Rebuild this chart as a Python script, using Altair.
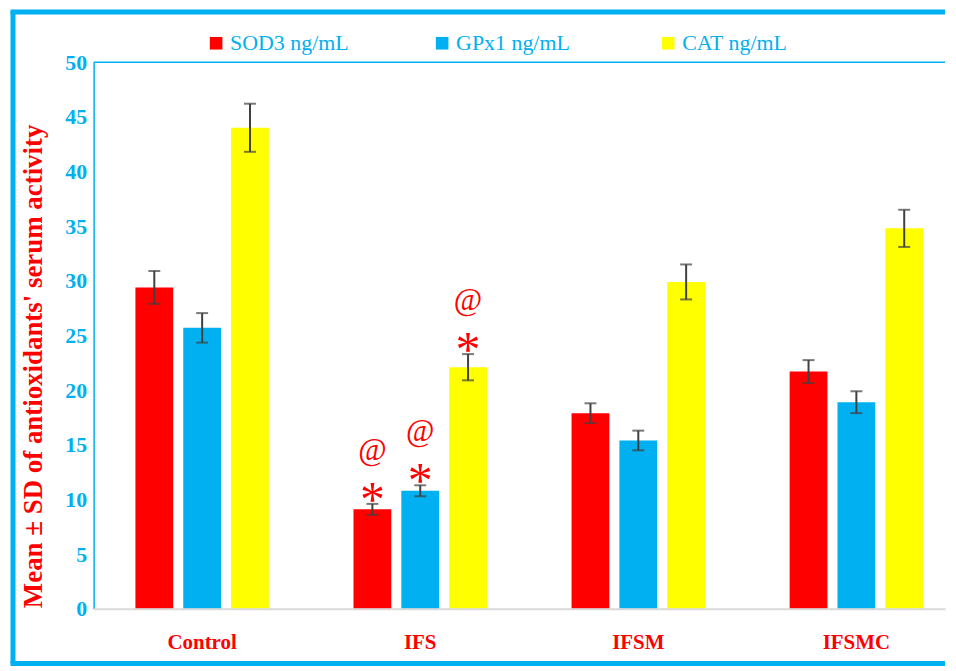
import altair as alt
import pandas as pd

groups = ["Control", "IFS", "IFSM", "IFSMC"]
series = ["SOD3 ng/mL", "GPx1 ng/mL", "CAT ng/mL"]
sod3 = [29.4, 9.1, 17.9, 21.7]
sod3_sd = [1.5, 0.5, 0.9, 1.05]
gpx1 = [25.7, 10.8, 15.4, 18.9]
gpx1_sd = [1.35, 0.5, 0.9, 1.0]
cat = [44.0, 22.1, 29.9, 34.8]
cat_sd = [2.2, 1.2, 1.6, 1.7]
# significance marks (IFS only)
star = ["", "*", "", ""]
at = ["", "@", "", ""]

rows = []
for s, vals, sds in [(series[0], sod3, sod3_sd), (series[1], gpx1, gpx1_sd), (series[2], cat, cat_sd)]:
    for i, g in enumerate(groups):
        rows.append({"group": g, "series": s, "value": vals[i], "sd": sds[i],
                     "lo": vals[i] - sds[i], "hi": vals[i] + sds[i],
                     "star": star[i], "at": at[i]})
df = pd.DataFrame(rows)

W, H = 855, 549
BLUE = "#00B0F0"
RED = "#FF0000"
FONT = "Liberation Serif"

xscale = alt.Scale(domain=groups, paddingInner=0.388, paddingOuter=0.146, align=0.656)
xoff = alt.Scale(domain=series, paddingInner=0.21, paddingOuter=0)
yscale = alt.Scale(domain=[0, 50])

X = alt.X("group:N", scale=xscale, sort=groups,
          axis=alt.Axis(title=None, labelAngle=0, labelColor=RED, labelFont=FONT,
                        labelFontSize=21, labelFontWeight="bold", labelPadding=23,
                        ticks=False, domainColor="#D9D9D9", domainWidth=2, zindex=1))
XO = alt.XOffset("series:N", scale=xoff, sort=series)

bars = alt.Chart(df).mark_bar().encode(
    x=X, xOffset=XO,
    y=alt.Y("value:Q", scale=yscale,
            axis=alt.Axis(title="Mean ± SD of antioxidants' serum activity",
                          values=list(range(0, 51, 5)), grid=False, ticks=False,
                          domain=True, domainColor=BLUE, domainWidth=1.5,
                          labelColor=BLUE, labelFont=FONT, labelFontSize=22,
                          labelFontWeight="bold", labelPadding=7,
                          titleColor=RED, titleFont=FONT, titleFontSize=27,
                          titleFontWeight="bold", titleX=-60, titleY=305,
                          titleAngle=270, titleAlign="center", titleBaseline="middle")),
    color=alt.Color("series:N", sort=series,
                    scale=alt.Scale(domain=series, range=[RED, BLUE, "#FFFF00"]),
                    legend=alt.Legend(title=None, orient="none", legendX=112, legendY=-30,
                                      direction="horizontal", columns=3, gridAlign="all",
                                      columnPadding=82, symbolType="square", symbolSize=160,
                                      symbolStrokeWidth=0, labelFont=FONT, labelFontSize=22,
                                      labelColor=BLUE, labelOffset=3, labelLimit=300)),
)

err = alt.Chart(df).mark_rule(color="#404040", strokeWidth=2).encode(
    x=X, xOffset=XO, y="lo:Q", y2="hi:Q")
cap_hi = alt.Chart(df).mark_tick(color="#404040", thickness=2, size=12).encode(
    x=X, xOffset=XO, y="hi:Q")
cap_lo = alt.Chart(df).mark_tick(color="#404040", thickness=2, size=12).encode(
    x=X, xOffset=XO, y="lo:Q")

stars = alt.Chart(df).mark_text(color=RED, font=FONT, fontSize=50, baseline="middle",
                                dy=-3).encode(
    x=X, xOffset=XO, y="hi:Q", text="star:N")
ats = alt.Chart(df).mark_text(color=RED, font=FONT, fontSize=31, baseline="middle",
                              dy=-53).encode(
    x=X, xOffset=XO, y="hi:Q", text="at:N")

dummy = alt.Data(values=[{"a": 1}])
top_line = alt.Chart(dummy).mark_rule(color=BLUE, strokeWidth=1.5).encode(
    x=alt.value(0), x2=alt.value(W), y=alt.value(0))
frame_left = alt.Chart(dummy).mark_rule(color=BLUE, strokeWidth=5).encode(
    x=alt.value(-81), y=alt.value(-50.5), y2=alt.value(H + 55))
frame_top = alt.Chart(dummy).mark_rule(color=BLUE, strokeWidth=5).encode(
    x=alt.value(-83.5), x2=alt.value(W), y=alt.value(-50.5))
frame_bot = alt.Chart(dummy).mark_rule(color=BLUE, strokeWidth=5).encode(
    x=alt.value(-83.5), x2=alt.value(W), y=alt.value(H + 55))

chart = alt.layer(bars, err, cap_hi, cap_lo, stars, ats, top_line,
                  frame_left, frame_top, frame_bot).properties(
    width=W, height=H, padding=0, background="white"
).configure_view(stroke=None)

chart.save("out.html", embed_options={"renderer": "svg", "actions": False})
